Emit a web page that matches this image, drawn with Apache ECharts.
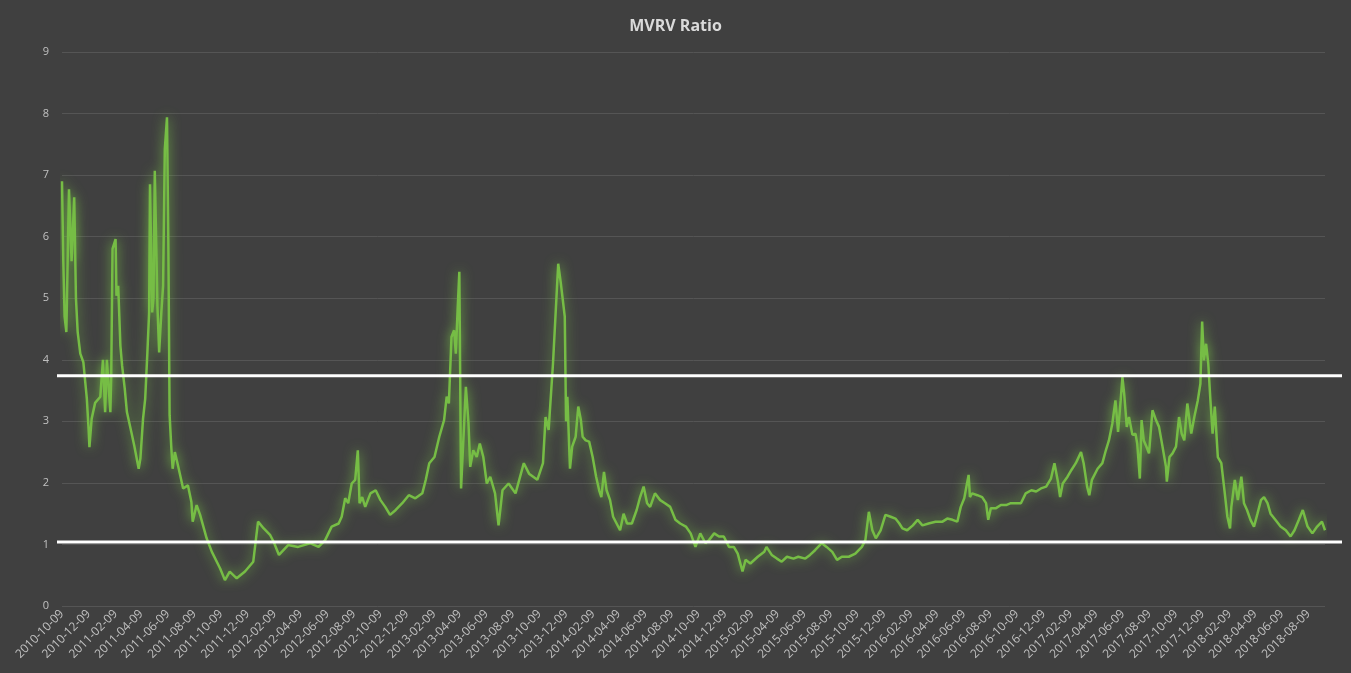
<!DOCTYPE html>
<html>
<head>
<meta charset="utf-8">
<script src="https://cdn.jsdelivr.net/npm/echarts@6/dist/echarts.min.js"></script>
<style>
html,body{margin:0;padding:0;background:#404040;}
#chart{width:1351px;height:673px;}
</style>
</head>
<body>
<div id="chart"></div>
<script>
const chartTitle = "MVRV Ratio";
const firstDay = "2010-10-09";
const lastDay = "2018-09-16";
const yTicks = [0,1,2,3,4,5,6,7,8,9];
const thresholds = [3.74, 1.04];
const xTickLabels = [
"2010-10-09","2010-12-09","2011-02-09","2011-04-09","2011-06-09","2011-08-09","2011-10-09","2011-12-09",
"2012-02-09","2012-04-09","2012-06-09","2012-08-09","2012-10-09","2012-12-09","2013-02-09","2013-04-09",
"2013-06-09","2013-08-09","2013-10-09","2013-12-09","2014-02-09","2014-04-09","2014-06-09","2014-08-09",
"2014-10-09","2014-12-09","2015-02-09","2015-04-09","2015-06-09","2015-08-09","2015-10-09","2015-12-09",
"2016-02-09","2016-04-09","2016-06-09","2016-08-09","2016-10-09","2016-12-09","2017-02-09","2017-04-09",
"2017-06-09","2017-08-09","2017-10-09","2017-12-09","2018-02-09","2018-04-09","2018-06-09","2018-08-09"];

const mvrv2010_11 = [["2010-10-09",6.9],["2010-10-12",5.6],["2010-10-15",4.7],["2010-10-19",4.45],["2010-10-25",6.77],["2010-10-31",5.6],["2010-11-06",6.64],["2010-11-10",5.0],["2010-11-14",4.45],["2010-11-20",4.1],["2010-11-27",3.96],["2010-12-05",3.37],["2010-12-09",2.88],["2010-12-11",2.58],["2010-12-16",3.04],["2010-12-24",3.3],["2011-01-05",3.4],["2011-01-11",4.0],["2011-01-16",3.15],["2011-01-20",4.0],["2011-01-28",3.15],["2011-01-30",3.75],["2011-02-02",5.8],["2011-02-09",5.96],["2011-02-11",5.04],["2011-02-15",5.2],["2011-02-20",4.23],["2011-02-24",3.9],["2011-03-02",3.53],["2011-03-07",3.15],["2011-03-17",2.83],["2011-03-24",2.6],["2011-04-03",2.23],["2011-04-07",2.4],["2011-04-13",3.04],["2011-04-18",3.37],["2011-04-23",4.12],["2011-04-27",4.77],["2011-04-29",6.85],["2011-05-04",4.77],["2011-05-07",5.0],["2011-05-10",7.07],["2011-05-16",4.88],["2011-05-20",4.12],["2011-05-25",4.77],["2011-05-29",5.2],["2011-06-02",7.42],["2011-06-07",7.94],["2011-06-10",5.96],["2011-06-13",3.1],["2011-06-17",2.56],["2011-06-20",2.23],["2011-06-25",2.5],["2011-07-02",2.29],["2011-07-14",1.91],["2011-07-25",1.96],["2011-08-02",1.69],["2011-08-05",1.37],["2011-08-14",1.64],["2011-08-22",1.48],["2011-09-06",1.1],["2011-09-18",0.88],["2011-10-07",0.61],["2011-10-18",0.42],["2011-10-29",0.56],["2011-11-14",0.45],["2011-12-03",0.56],["2011-12-22",0.72]];

const mvrv2012 = [["2012-01-02",1.37],["2012-01-15",1.26],["2012-01-30",1.15],["2012-02-07",1.04],["2012-02-19",0.83],["2012-03-11",0.99],["2012-04-03",0.96],["2012-04-30",1.02],["2012-05-20",0.96],["2012-06-04",1.07],["2012-06-19",1.29],["2012-07-05",1.34],["2012-07-12",1.45],["2012-07-20",1.75],["2012-07-27",1.67],["2012-08-04",1.99],["2012-08-12",2.05],["2012-08-18",2.53],["2012-08-22",1.67],["2012-08-28",1.77],["2012-09-04",1.61],["2012-09-16",1.83],["2012-09-28",1.88],["2012-10-09",1.72],["2012-10-20",1.61],["2012-10-31",1.48],["2012-11-13",1.56],["2012-11-28",1.67],["2012-12-13",1.8],["2012-12-28",1.75]];

const mvrv2013 = [["2013-01-13",1.83],["2013-01-21",2.05],["2013-01-29",2.32],["2013-02-10",2.42],["2013-02-21",2.75],["2013-03-04",3.02],["2013-03-10",3.4],["2013-03-15",3.29],["2013-03-21",4.37],["2013-03-27",4.48],["2013-03-31",4.1],["2013-04-04",4.8],["2013-04-08",5.43],["2013-04-12",1.91],["2013-04-23",3.56],["2013-04-29",2.97],["2013-05-03",2.26],["2013-05-10",2.53],["2013-05-18",2.42],["2013-05-25",2.64],["2013-06-02",2.42],["2013-06-10",1.99],["2013-06-18",2.1],["2013-06-29",1.83],["2013-07-07",1.31],["2013-07-16",1.88],["2013-07-30",1.99],["2013-08-15",1.83],["2013-09-03",2.32],["2013-09-15",2.15],["2013-10-04",2.05],["2013-10-17",2.32],["2013-10-23",3.07],["2013-10-30",2.86],["2013-11-09",3.94],["2013-11-21",5.56],["2013-11-27",5.24],["2013-12-06",4.7],["2013-12-09",3.0],["2013-12-12",3.4],["2013-12-18",2.23],["2013-12-23",2.59],["2013-12-31",2.75]];

const mvrv2014 = [["2014-01-06",3.24],["2014-01-12",3.02],["2014-01-16",2.75],["2014-01-23",2.69],["2014-01-31",2.67],["2014-02-08",2.42],["2014-02-16",2.1],["2014-02-23",1.88],["2014-02-28",1.77],["2014-03-06",2.18],["2014-03-12",1.88],["2014-03-20",1.72],["2014-03-27",1.45],["2014-04-04",1.34],["2014-04-12",1.23],["2014-04-20",1.5],["2014-04-28",1.34],["2014-05-09",1.34],["2014-05-20",1.56],["2014-05-28",1.77],["2014-06-05",1.94],["2014-06-13",1.67],["2014-06-20",1.61],["2014-07-01",1.83],["2014-07-13",1.72],["2014-07-24",1.67],["2014-08-05",1.61],["2014-08-17",1.4],["2014-08-28",1.34],["2014-09-10",1.29],["2014-09-21",1.18],["2014-10-02",0.96],["2014-10-13",1.18],["2014-10-25",1.02],["2014-11-02",1.07],["2014-11-14",1.18],["2014-11-25",1.13],["2014-12-06",1.13],["2014-12-18",0.96],["2014-12-29",0.96]];

const mvrv2015 = [["2015-01-07",0.85],["2015-01-18",0.56],["2015-01-25",0.75],["2015-02-05",0.69],["2015-02-22",0.8],["2015-03-09",0.88],["2015-03-14",0.96],["2015-03-26",0.83],["2015-04-07",0.77],["2015-04-18",0.72],["2015-04-30",0.8],["2015-05-15",0.77],["2015-05-26",0.8],["2015-06-11",0.77],["2015-06-22",0.83],["2015-07-04",0.91],["2015-07-19",1.02],["2015-07-30",0.96],["2015-08-12",0.88],["2015-08-23",0.75],["2015-09-03",0.8],["2015-09-19",0.8],["2015-10-04",0.85],["2015-10-19",0.96],["2015-10-27",1.07],["2015-11-04",1.53],["2015-11-12",1.23],["2015-11-20",1.1],["2015-12-01",1.23],["2015-12-12",1.48],["2015-12-24",1.45]];

const mvrv2016 = [["2016-01-04",1.42],["2016-01-13",1.34],["2016-01-20",1.26],["2016-01-31",1.23],["2016-02-13",1.31],["2016-02-24",1.4],["2016-03-06",1.31],["2016-03-20",1.34],["2016-04-05",1.37],["2016-04-21",1.37],["2016-05-02",1.42],["2016-05-14",1.4],["2016-05-25",1.37],["2016-06-02",1.61],["2016-06-10",1.75],["2016-06-15",1.94],["2016-06-20",2.13],["2016-06-23",1.77],["2016-06-28",1.83],["2016-07-10",1.8],["2016-07-21",1.77],["2016-07-30",1.67],["2016-08-04",1.4],["2016-08-10",1.59],["2016-08-22",1.59],["2016-09-02",1.64],["2016-09-14",1.64],["2016-09-25",1.67],["2016-10-07",1.67],["2016-10-18",1.67],["2016-10-29",1.83],["2016-11-11",1.88],["2016-11-22",1.86],["2016-12-03",1.91],["2016-12-15",1.94],["2016-12-26",2.07]];

const mvrv2017 = [["2017-01-03",2.32],["2017-01-11",2.02],["2017-01-16",1.77],["2017-01-22",1.99],["2017-02-02",2.1],["2017-02-11",2.21],["2017-02-21",2.32],["2017-03-05",2.5],["2017-03-11",2.32],["2017-03-19",1.94],["2017-03-24",1.8],["2017-03-30",2.05],["2017-04-12",2.23],["2017-04-23",2.32],["2017-05-01",2.53],["2017-05-08",2.69],["2017-05-16",2.97],["2017-05-23",3.34],["2017-05-29",2.83],["2017-06-04",3.34],["2017-06-08",3.72],["2017-06-12",3.45],["2017-06-18",2.91],["2017-06-23",3.07],["2017-07-01",2.78],["2017-07-08",2.8],["2017-07-12",2.64],["2017-07-16",2.26],["2017-07-18",2.07],["2017-07-22",3.02],["2017-07-27",2.69],["2017-08-02",2.59],["2017-08-08",2.48],["2017-08-16",3.18],["2017-08-24",3.02],["2017-08-31",2.91],["2017-09-08",2.59],["2017-09-16",2.26],["2017-09-18",2.02],["2017-09-24",2.42],["2017-10-01",2.48],["2017-10-09",2.59],["2017-10-16",3.07],["2017-10-22",2.8],["2017-10-28",2.69],["2017-11-04",3.29],["2017-11-13",2.8],["2017-11-20",3.07],["2017-11-28",3.34],["2017-12-04",3.61],["2017-12-08",4.62],["2017-12-12",3.99],["2017-12-17",4.26],["2017-12-22",3.94],["2017-12-27",3.34]];

const mvrv2018 = [["2018-01-01",2.8],["2018-01-06",3.24],["2018-01-13",2.42],["2018-01-21",2.32],["2018-01-29",1.83],["2018-02-04",1.45],["2018-02-10",1.26],["2018-02-13",1.61],["2018-02-21",2.05],["2018-02-28",1.72],["2018-03-08",2.1],["2018-03-14",1.67],["2018-03-21",1.56],["2018-03-29",1.4],["2018-04-06",1.29],["2018-04-14",1.5],["2018-04-22",1.72],["2018-04-29",1.77],["2018-05-07",1.67],["2018-05-14",1.5],["2018-05-25",1.4],["2018-06-06",1.29],["2018-06-18",1.23],["2018-06-29",1.13],["2018-07-08",1.23],["2018-07-18",1.4],["2018-07-27",1.56],["2018-08-07",1.29],["2018-08-18",1.18],["2018-08-29",1.29],["2018-09-09",1.37],["2018-09-16",1.23]];

// daily category axis
const categories = [];
{
  let t = Date.parse(firstDay + "T00:00:00Z");
  const end = Date.parse(lastDay + "T00:00:00Z");
  while (t <= end) {
    categories.push(new Date(t).toISOString().slice(0, 10));
    t += 86400000;
  }
}
const catIndex = new Map(categories.map((d, i) => [d, i]));
const labelSet = new Set(xTickLabels);
const allObs = [].concat(mvrv2010_11, mvrv2012, mvrv2013, mvrv2014, mvrv2015, mvrv2016, mvrv2017, mvrv2018);
const lineData = allObs.map(p => [catIndex.get(p[0]), p[1]]);

const textColor = '#c0c0c0';
const chart = echarts.init(document.getElementById('chart'), null, {renderer: 'canvas'});
chart.setOption({
  backgroundColor: '#404040',
  animation: false,
  title: {
    text: chartTitle, left: 'center', top: 13,
    textStyle: {color: '#dadada', fontSize: 16, fontWeight: 'bold', fontFamily: 'Open Sans'}
  },
  grid: [
    {left: 62, right: 26, top: 52, bottom: 67},
    {left: 57, right: 9, top: 52, bottom: 67}
  ],
  xAxis: [
    {
      type: 'category', gridIndex: 0, data: categories, boundaryGap: false,
      axisLine: {show: false}, axisTick: {show: false},
      axisLabel: {
        rotate: 45, color: textColor, fontSize: 12, fontFamily: 'Open Sans', margin: 6,
        interval: (idx, val) => labelSet.has(val)
      },
      splitLine: {show: false}
    },
    {type: 'value', gridIndex: 1, min: 0, max: 1, show: false}
  ],
  yAxis: [
    {
      type: 'value', gridIndex: 0, min: yTicks[0], max: yTicks[yTicks.length - 1], interval: 1,
      axisLine: {show: false}, axisTick: {show: false},
      axisLabel: {color: textColor, fontSize: 11, fontFamily: 'Open Sans', margin: 13},
      splitLine: {lineStyle: {color: '#555555', width: 1}}
    },
    {type: 'value', gridIndex: 1, min: yTicks[0], max: yTicks[yTicks.length - 1], show: false}
  ],
  series: [
    {
      type: 'line', xAxisIndex: 0, yAxisIndex: 0, data: lineData,
      showSymbol: false, symbol: 'none', sampling: null,
      lineStyle: {color: '#76bd45', width: 2.5, shadowBlur: 12, shadowColor: 'rgba(125,205,70,0.85)'},
      z: 3
    }
  ].concat(thresholds.map(v => ({
    type: 'line', xAxisIndex: 1, yAxisIndex: 1, data: [[0, v], [1, v]],
    showSymbol: false, symbol: 'none',
    lineStyle: {color: '#ffffff', width: 3}, z: 4
  })))
});
</script>
</body>
</html>
